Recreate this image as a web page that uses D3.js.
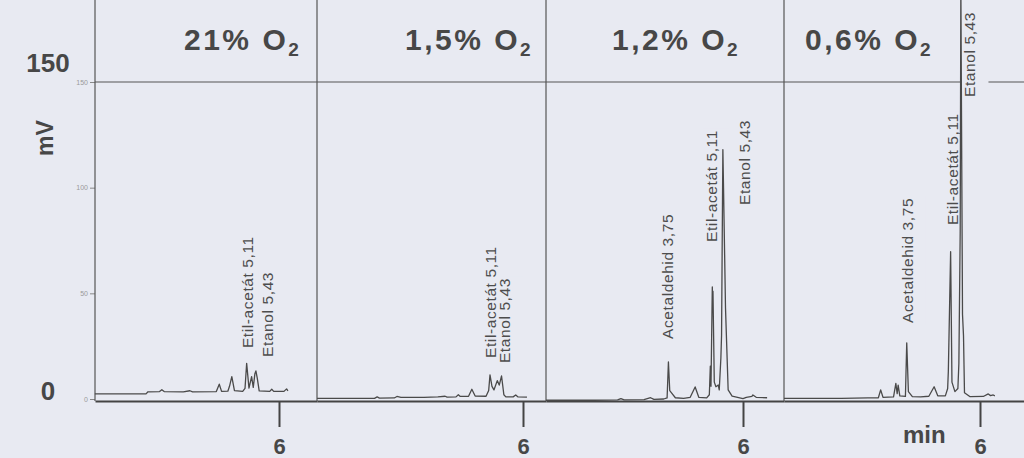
<!DOCTYPE html>
<html>
<head>
<meta charset="utf-8">
<script src="https://cdn.jsdelivr.net/npm/d3@7"></script>
<style>
  body { margin: 0; background: #e8eaf2; }
  svg { display: block; font-family: "Liberation Sans", Arial, sans-serif; }
</style>
</head>
<body>
<div id="chart"></div>
<script>
// Oxygen levels of the four runs (panel titles)
var oxygen = ['21%', '1,5%', '1,2%', '0,6%'];

// Chromatogram traces: [retention time (min), signal (mV)]
var trace21 = [
  [0.42, 2.4], [1.97, 2.4], [2.03, 3.4], [2.38, 3.5], [2.45, 4.4], [2.52, 3.5],
  [3.10, 3.4], [3.30, 3.9], [3.38, 3.4], [4.10, 3.5], [4.19, 7.0], [4.26, 3.6],
  [4.45, 3.7], [4.50, 6.0], [4.57, 10.6], [4.65, 4.0], [4.90, 3.6], [4.97, 5.0],
  [5.02, 16.9], [5.09, 5.1], [5.17, 10.6], [5.22, 5.5], [5.27, 12.0], [5.30, 13.3],
  [5.34, 10.0], [5.40, 3.8], [5.72, 3.6], [5.78, 4.6], [5.84, 3.6], [6.15, 3.6],
  [6.23, 4.8], [6.27, 3.8]
];
var trace15 = [
  [-0.24, 0.3], [1.50, 0.3], [1.58, 1.0], [1.65, 0.4], [2.10, 0.5], [2.18, 1.2],
  [2.30, 0.8], [3.00, 0.8], [3.42, 1.0], [3.64, 1.3], [3.70, 0.9], [3.97, 1.0],
  [4.04, 2.0], [4.10, 1.2], [4.35, 1.3], [4.45, 4.6], [4.55, 1.4], [4.88, 1.3],
  [4.96, 4.0], [5.00, 11.4], [5.06, 6.0], [5.12, 4.3], [5.22, 8.7], [5.28, 6.6],
  [5.35, 10.9], [5.42, 2.0], [5.48, 1.0], [5.70, 1.0], [5.78, 1.9], [5.85, 1.0],
  [6.12, 0.9]
];
var trace12 = [
  [0.03, -0.6], [1.50, -0.6], [2.20, -0.4], [2.30, 0.2], [2.40, -0.4], [3.00, -0.3],
  [3.20, 0.6], [3.30, -0.2], [3.60, 0.0], [3.70, 0.5], [3.74, 17.5], [3.78, 4.0],
  [3.84, 2.8], [3.95, 0.6], [4.20, 0.3], [4.40, 0.8], [4.55, 5.7], [4.66, 0.8],
  [4.90, 0.5], [4.98, 2.0], [5.01, 15.6], [5.03, 6.0], [5.07, 53.0], [5.08, 45.0],
  [5.09, 51.0], [5.13, 8.0], [5.18, 5.8], [5.25, 6.6], [5.28, 4.3], [5.33, 19.5],
  [5.35, 30.0], [5.39, 118.0], [5.41, 100.0], [5.47, 43.0], [5.55, 4.3], [5.67, 1.4],
  [6.00, 0.2], [6.10, 0.8], [6.27, 1.2], [6.30, 1.9], [6.40, 0.8], [6.73, 0.6]
];
var trace06 = [
  [0.06, 0.3], [1.80, 0.3], [2.60, 0.5], [2.92, 0.6], [2.99, 4.3], [3.06, 0.8],
  [3.38, 1.0], [3.45, 7.4], [3.49, 2.5], [3.52, 6.6], [3.57, 1.5], [3.74, 1.2],
  [3.78, 26.6], [3.83, 3.5], [3.95, 1.1], [4.20, 1.0], [4.45, 1.3], [4.61, 5.8],
  [4.72, 1.5], [4.95, 1.5], [5.02, 5.0], [5.04, 12.9], [5.11, 69.7], [5.15, 8.0],
  [5.24, 3.5], [5.33, 5.0], [5.36, 16.9], [5.40, 79.0], [5.42, 195.0], [5.47, 40.0],
  [5.50, 30.0], [5.53, 3.0], [5.70, 1.1], [6.10, 1.2], [6.25, 2.4], [6.32, 1.6],
  [6.40, 1.9], [6.45, 1.5]
];
var traces = [trace21, trace15, trace12, trace06];

// Identified compounds and their retention times
var compounds = ['Acetaldehid', 'Etil-acetát', 'Etanol'];
var retention = ['3,75', '5,11', '5,43'];
// which compounds are annotated in each panel
var annotated = [[1, 2], [1, 2], [0, 1, 2], [0, 1, 2]];

// Axis ticks
var yTicks = [0, 50, 100, 150];
var xTicks = [6];

// ---- layout ----
var svgWidth = 1024;
var svgHeight = 458;
var panelEdges = [[95, 317], [317, 546], [546, 784], [784, 1024]];
var sixAt = [279, 523, 743, 980];     // pixel where 6 min falls in each panel
var pxPerMin = 33;
var titleX = [184, 405, 612, 805];
// label anchors (min, mV at the foot of the label), per panel
var labelAnchors = [
  [[5.03, 24.1], [5.64, 19.9]],
  [[5.00, 19.4], [5.45, 17.0]],
  [[3.70, 28.4], [5.03, 74.3], [6.03, 91.8]],
  [[3.79, 36.0], [5.15, 82.3], [5.69, 142.9]]
];

var ink = '#474747';
var bg = '#e8eaf2';

var svg = d3.select('#chart')
  .append('svg')
  .attr('width', svgWidth)
  .attr('height', svgHeight);

svg.append('rect')
  .attr('width', svgWidth)
  .attr('height', svgHeight)
  .attr('fill', bg);

// shared signal scale
var yScale = d3.scaleLinear()
  .domain([0, 150])
  .range([399, 82]);

var axisY = yScale(0) + 2;

// 150 mV line running across all panels
svg.append('line')
  .attr('x1', panelEdges[0][0]).attr('x2', svgWidth)
  .attr('y1', yScale(150)).attr('y2', yScale(150))
  .attr('stroke', '#555')
  .attr('stroke-width', 1.2);

// left signal axis with the small instrument tick labels
var leftAxis = d3.axisLeft(yScale)
  .tickValues(yTicks)
  .tickSize(5)
  .tickPadding(2);

var yAxis = svg.append('g')
  .attr('transform', `translate(${panelEdges[0][0]}, 0)`)
  .call(leftAxis);
yAxis.select('.domain').remove();
yAxis.selectAll('line').attr('stroke', '#888');
yAxis.selectAll('text')
  .attr('fill', '#9a9a9a')
  .attr('font-size', '7px')
  .attr('font-family', '"Liberation Sans", Arial, sans-serif');

// big axis annotations
svg.append('text')
  .attr('x', 48).attr('y', yScale(150) - 10)
  .attr('text-anchor', 'middle')
  .attr('font-size', '26px').attr('font-weight', 'bold')
  .attr('fill', ink)
  .text('150');

svg.append('text')
  .attr('x', 48).attr('y', yScale(0) + 1)
  .attr('text-anchor', 'middle')
  .attr('font-size', '26px').attr('font-weight', 'bold')
  .attr('fill', ink)
  .text('0');

svg.append('text')
  .attr('transform', `translate(53, 138) rotate(-90)`)
  .attr('text-anchor', 'middle')
  .attr('font-size', '23px').attr('font-weight', 'bold')
  .attr('fill', ink)
  .text('mV');

svg.append('text')
  .attr('x', 903).attr('y', 443)
  .attr('font-size', '24px').attr('font-weight', 'bold')
  .attr('fill', ink)
  .text('min');

var line = d3.line();

panelEdges.forEach(function(edge, i) {
  var xScale = d3.scaleLinear()
    .domain([6 + (edge[0] - sixAt[i]) / pxPerMin, 6 + (edge[1] - sixAt[i]) / pxPerMin])
    .range(edge);

  var g = svg.append('g').attr('class', 'panel');

  // panel border on the left
  g.append('line')
    .attr('x1', edge[0]).attr('x2', edge[0])
    .attr('y1', 0).attr('y2', axisY)
    .attr('stroke', '#555')
    .attr('stroke-width', 1.2);

  // title
  var title = g.append('text')
    .attr('x', titleX[i]).attr('y', 50)
    .attr('font-size', '30px').attr('font-weight', 'bold')
    .attr('letter-spacing', '2.5px')
    .attr('fill', ink);
  title.append('tspan').text(oxygen[i] + ' O');
  title.append('tspan')
    .attr('font-size', '19px')
    .attr('dy', 6)
    .text('2');

  // time axis
  var bottomAxis = d3.axisBottom(xScale)
    .tickValues(xTicks)
    .tickSize(26)
    .tickSizeOuter(0)
    .tickPadding(11)
    .tickFormat(d3.format('d'));

  var xAxis = g.append('g')
    .attr('transform', `translate(0, ${axisY})`)
    .call(bottomAxis);
  xAxis.select('.domain')
    .attr('stroke', '#444')
    .attr('stroke-width', 2);
  xAxis.selectAll('.tick line')
    .attr('stroke', '#444')
    .attr('stroke-width', 2);
  xAxis.selectAll('.tick text')
    .attr('fill', ink)
    .attr('font-size', '22px')
    .attr('font-weight', 'bold')
    .attr('font-family', '"Liberation Sans", Arial, sans-serif');

  // compound labels
  var labels = annotated[i].map(function(c, k) {
    return { text: compounds[c] + ' ' + retention[c], t: labelAnchors[i][k][0], v: labelAnchors[i][k][1] };
  });

  var backs = g.append('g');
  var traceLayer = g.append('g');
  var fronts = g.append('g');

  fronts.selectAll('.peak-label')
    .data(labels)
    .enter()
    .append('text')
    .attr('class', 'peak-label')
    .attr('transform', d => `translate(${xScale(d.t)}, ${yScale(d.v)}) rotate(-90)`)
    .attr('dy', '0.36em')
    .attr('font-size', '15.5px')
    .attr('letter-spacing', '0.6px')
    .attr('fill', '#4d4d4d')
    .text(d => d.text)
    .each(function(d) {
      // paper-coloured patch behind the label so lines break around it
      var box = this.getBBox();
      backs.append('rect')
        .attr('transform', `translate(${xScale(d.t)}, ${yScale(d.v)}) rotate(-90)`)
        .attr('x', box.x - 2).attr('y', box.y + box.height * 0.36 - 6)
        .attr('width', box.width + 4).attr('height', box.height + 10)
        .attr('fill', bg);
    });

  // chromatogram trace
  traceLayer.append('path')
    .datum(traces[i])
    .attr('fill', 'none')
    .attr('stroke', '#4a4a4a')
    .attr('stroke-width', 1.3)
    .attr('stroke-linejoin', 'round')
    .attr('d', line.x(d => xScale(d[0])).y(d => yScale(d[1])));
});
</script>
</body>
</html>
